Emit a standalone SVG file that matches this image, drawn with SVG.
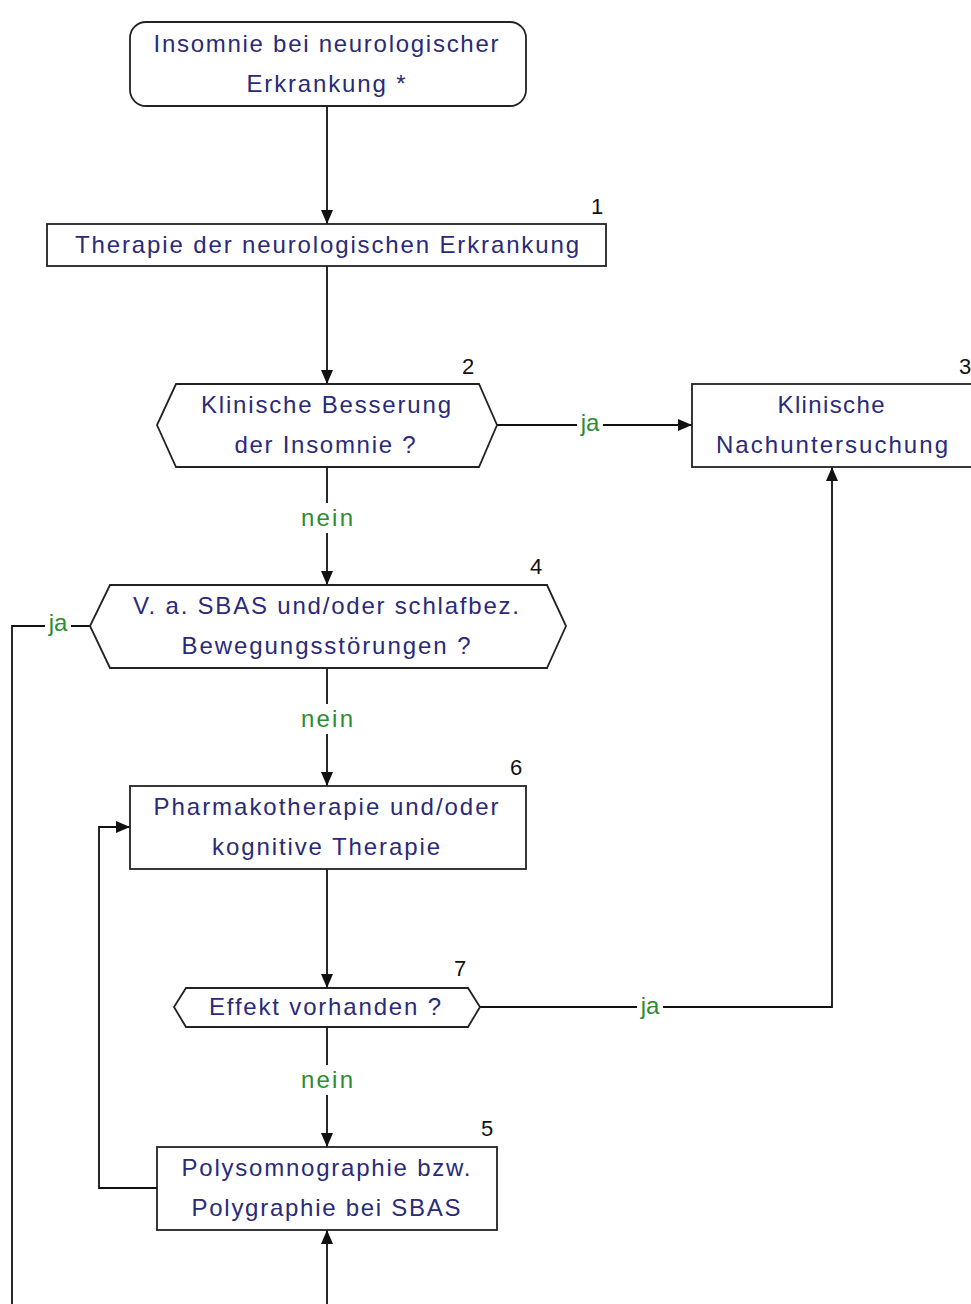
<svg xmlns="http://www.w3.org/2000/svg" width="971" height="1304" viewBox="0 0 971 1304">
<defs>
<style>
.box{fill:#fff;stroke:#222;stroke-width:1.8}
.t{font-family:"Liberation Sans",Arial,sans-serif;font-size:24px;fill:#2a2a78;text-anchor:middle}
.n{font-family:"Liberation Sans",Arial,sans-serif;font-size:22px;fill:#111;text-anchor:middle}
.lbl{font-family:"Liberation Sans",Arial,sans-serif;font-size:24px;fill:#2e8b2e;text-anchor:middle}
.c{fill:none;stroke:#111;stroke-width:1.8}
.bg{fill:#fff}
</style>
<marker id="ah" viewBox="0 0 14 12" refX="14" refY="6" markerWidth="14" markerHeight="12" markerUnits="userSpaceOnUse" orient="auto">
<path d="M0,0 L14,6 L0,12 z" fill="#111"/>
</marker>
</defs>
<rect width="971" height="1304" fill="#fff"/>
<g id="connectors">
<path class="c" d="M327,106 V224" marker-end="url(#ah)"/>
<path class="c" d="M327,266 V384" marker-end="url(#ah)"/>
<path class="c" d="M497,425 H692" marker-end="url(#ah)"/>
<path class="c" d="M327,467 V585" marker-end="url(#ah)"/>
<path class="c" d="M327,668 V786" marker-end="url(#ah)"/>
<path class="c" d="M327,869 V988" marker-end="url(#ah)"/>
<path class="c" d="M480,1007 H832 V467" marker-end="url(#ah)"/>
<path class="c" d="M327,1027 V1147" marker-end="url(#ah)"/>
<path class="c" d="M157,1188 H99 V827 H130" marker-end="url(#ah)"/>
<path class="c" d="M90,626 H12 V1304"/>
<path class="c" d="M327,1304 V1230" marker-end="url(#ah)"/>
<rect class="bg" x="577" y="410" width="26" height="28"/>
<text class="lbl" x="590" y="431">ja</text>
<rect class="bg" x="299" y="503" width="56" height="30"/>
<text class="lbl" x="327" y="526" textLength="52">nein</text>
<rect class="bg" x="299" y="704" width="56" height="30"/>
<text class="lbl" x="327" y="727" textLength="52">nein</text>
<rect class="bg" x="637" y="993" width="26" height="28"/>
<text class="lbl" x="650" y="1014">ja</text>
<rect class="bg" x="299" y="1065" width="56" height="30"/>
<text class="lbl" x="327" y="1088" textLength="52">nein</text>
<rect class="bg" x="45" y="610" width="26" height="28"/>
<text class="lbl" x="58" y="631">ja</text>
</g>
<g id="start">
<rect class="box" x="130" y="22" width="396" height="84" rx="16"/>
<text class="t" x="326" y="52" textLength="345">Insomnie bei neurologischer</text>
<text class="t" x="326" y="92" textLength="159">Erkrankung *</text>
</g>
<g id="node1">
<rect class="box" x="47" y="224" width="559" height="42"/>
<text class="t" x="327" y="253" textLength="504">Therapie der neurologischen Erkrankung</text>
<text class="n" x="597" y="214">1</text>
</g>
<g id="node2">
<polygon class="box" points="176,384 479,384 497,425 479,467 176,467 157,425"/>
<text class="t" x="326" y="413" textLength="250">Klinische Besserung</text>
<text class="t" x="325" y="453" textLength="181">der Insomnie ?</text>
<text class="n" x="468" y="374">2</text>
</g>
<g id="node3">
<rect class="box" x="692" y="384" width="290" height="83"/>
<text class="t" x="831" y="413" textLength="107">Klinische</text>
<text class="t" x="832" y="453" textLength="232">Nachuntersuchung</text>
<text class="n" x="965" y="374">3</text>
</g>
<g id="node4">
<polygon class="box" points="110,585 547,585 566,626 547,668 110,668 90,626"/>
<text class="t" x="326" y="614" textLength="386">V. a. SBAS und/oder schlafbez.</text>
<text class="t" x="326" y="654" textLength="289">Bewegungsstörungen ?</text>
<text class="n" x="536" y="574">4</text>
</g>
<g id="node6">
<rect class="box" x="130" y="786" width="396" height="83"/>
<text class="t" x="326" y="815" textLength="345">Pharmakotherapie und/oder</text>
<text class="t" x="326" y="855" textLength="228">kognitive Therapie</text>
<text class="n" x="516" y="775">6</text>
</g>
<g id="node7">
<polygon class="box" points="186,988 468,988 480,1007 468,1027 186,1027 174,1007"/>
<text class="t" x="325" y="1015" textLength="232">Effekt vorhanden ?</text>
<text class="n" x="460" y="976">7</text>
</g>
<g id="node5">
<rect class="box" x="157" y="1147" width="340" height="83"/>
<text class="t" x="326" y="1176" textLength="289">Polysomnographie bzw.</text>
<text class="t" x="326" y="1216" textLength="269">Polygraphie bei SBAS</text>
<text class="n" x="487" y="1136">5</text>
</g>
</svg>
